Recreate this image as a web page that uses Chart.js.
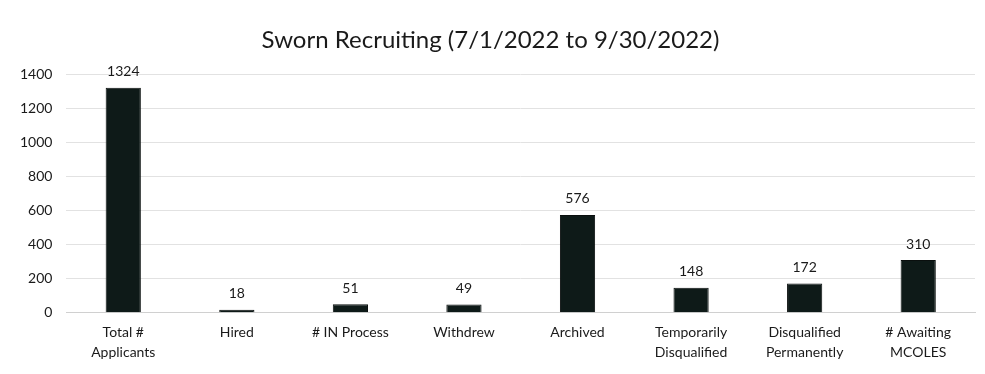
<!DOCTYPE html>
<html>
<head>
<meta charset="utf-8">
<script src="https://cdn.jsdelivr.net/npm/chart.js@4/dist/chart.umd.min.js"></script>
<style>
  body { margin: 0; background: #fff; }
  #wrap { width: 985px; height: 374px; }
</style>
</head>
<body>
<div id="wrap"><canvas id="recruit" width="985" height="374"></canvas></div>
<script>
var categories = [
    ["Total #", "Applicants"],
    "Hired",
    "# IN Process",
    "Withdrew",
    "Archived",
    ["Temporarily", "Disqualified"],
    ["Disqualified", "Permanently"],
    ["# Awaiting", "MCOLES"]
];
var counts = [1324, 18, 51, 49, 576, 148, 172, 310];
var yTicks = [0, 200, 400, 600, 800, 1000, 1200, 1400];

var fontFamily = 'Lato, "Open Sans", sans-serif';

// value labels above each bar
var barLabels = {
    id: 'barLabels',
    afterDatasetsDraw: function(chart) {
        var ctx = chart.ctx;
        var meta = chart.getDatasetMeta(0);
        ctx.save();
        ctx.fillStyle = '#1a1a1a';
        ctx.font = '14px ' + fontFamily;
        ctx.textAlign = 'center';
        ctx.textBaseline = 'bottom';
        meta.data.forEach(function(bar, i) {
            ctx.fillText(counts[i], bar.x, bar.y - 9);
        });
        ctx.restore();
    }
};

window.onload = () => {
    var ctx = document.getElementById('recruit').getContext('2d');
    new Chart(ctx, {
        type: 'bar',
        data: {
            labels: categories,
            datasets: [{
                label: 'Sworn Recruiting',
                data: counts,
                backgroundColor: '#0e1a18',
                borderColor: '#0a0f0e',
                borderWidth: 1,
                barPercentage: 0.31,
                categoryPercentage: 1
            }]
        },
        options: {
            responsive: false,
            animation: false,
            layout: { padding: { top: 22, right: 10, bottom: 10, left: 6 } },
            plugins: {
                legend: { display: false },
                tooltip: { enabled: false },
                title: {
                    display: true,
                    text: 'Sworn Recruiting (7/1/2022 to 9/30/2022)',
                    color: '#1a1a1a',
                    font: { family: fontFamily, size: 24, weight: 'normal' },
                    padding: { top: 4, bottom: 20 }
                }
            },
            scales: {
                x: {
                    grid: { display: false },
                    border: { color: '#d0d0d0' },
                    ticks: {
                        color: '#1a1a1a',
                        font: { family: fontFamily, size: 14, lineHeight: 1.4 },
                        maxRotation: 0,
                        padding: 2
                    }
                },
                y: {
                    min: 0,
                    max: 1400,
                    afterBuildTicks: function(axis) {
                        axis.ticks = yTicks.map(v => ({ value: v }));
                    },
                    grid: { color: '#e2e2e2', drawTicks: false },
                    border: { display: false },
                    ticks: {
                        color: '#1a1a1a',
                        font: { family: fontFamily, size: 14 },
                        padding: 14,
                        callback: function(v) { return String(v); }
                    }
                }
            }
        },
        plugins: [barLabels]
    });
};
</script>
</body>
</html>
